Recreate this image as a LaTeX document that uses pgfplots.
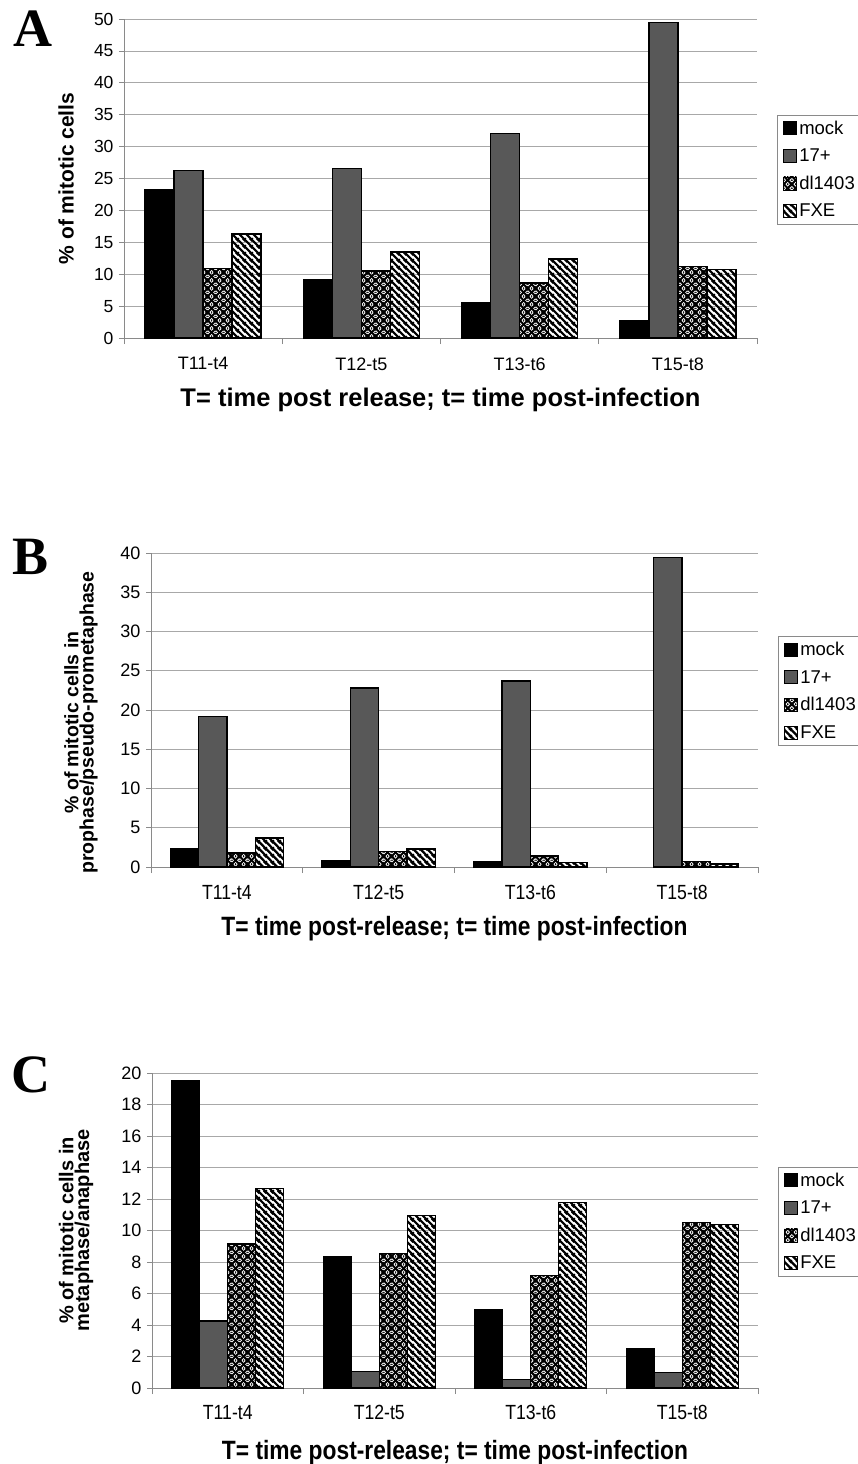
\documentclass[border=0pt]{standalone}
\usepackage{pgfplots}
\pgfplotsset{compat=1.18}
\usetikzlibrary{patterns.meta}
\usepackage{fontspec}
\setmainfont{Liberation Sans}
\newfontfamily\narrowfont[FakeStretch=0.86]{Liberation Sans}
\newfontfamily\serifb{Liberation Serif}

\tikzdeclarepattern{
  name=fxe, type=uncolored,
  bottom left={(0pt,0pt)}, top right={(7pt,7pt)}, tile size={(7pt,7pt)},
  code={
    \draw[line width=2.5pt] (-1pt,8pt) -- (8pt,-1pt);
    \draw[line width=2.5pt] (-1.5pt,1.5pt) -- (1.5pt,-1.5pt);
    \draw[line width=2.5pt] (5.5pt,8.5pt) -- (8.5pt,5.5pt);
  }
}
\tikzdeclarepattern{
  name=dlx, type=uncolored,
  bottom left={(0pt,0pt)}, top right={(8pt,8pt)}, tile size={(8pt,8pt)},
  code={
    \draw[line width=2.2pt] (-1pt,9pt) -- (9pt,-1pt);
    \draw[line width=2.2pt] (-1.5pt,1.5pt) -- (1.5pt,-1.5pt);
    \draw[line width=2.2pt] (6.5pt,9.5pt) -- (9.5pt,6.5pt);
    \draw[line width=2.2pt] (-1pt,-1pt) -- (9pt,9pt);
    \draw[line width=2.2pt] (-1.5pt,6.5pt) -- (1.5pt,9.5pt);
    \draw[line width=2.2pt] (6.5pt,-1.5pt) -- (9.5pt,1.5pt);
    \fill (4pt,0pt) circle (0.9pt);
    \fill (0pt,4pt) circle (0.9pt);
    \fill (8pt,4pt) circle (0.9pt);
    \fill (4pt,8pt) circle (0.9pt);
  }
}

\definecolor{bargray}{HTML}{585858}
\definecolor{gridgray}{HTML}{A8A8A8}
\definecolor{axisgray}{HTML}{8A8A8A}

\pgfplotsset{
  mylegend/.style={legend image code/.code={\draw[##1,line width=0.9pt] (0pt,-6.5pt) rectangle (13pt,6.5pt);}},
  panel/.style={
    scale only axis,
    axis x line*=bottom, axis y line*=left,
    axis line style={axisgray, line width=0.8pt},
    ymajorgrids, grid style={gridgray, line width=0.7pt},
    xmin=-0.5, xmax=3.5, ymin=0,
    xtick={0,1,2,3},
    xticklabels={T11-t4,T12-t5,T13-t6,T15-t8},
    minor xtick={-0.5,0.5,1.5,2.5,3.5},
    major x tick style={draw=none},
    minor x tick style={axisgray, line width=0.8pt},
    minor tick length=6pt,
    y tick style={axisgray, line width=0.8pt},
    major tick length=5pt,
    tick align=outside,
    /pgf/number format/assume math mode=true,
    yticklabel style={font=\fontsize{17.5}{20}\selectfont, xshift=-2pt},
    ybar=0pt,
    every axis x label/.style={at={(axis description cs:0.5,0)}, anchor=center, yshift=-62pt},
    every axis y label/.style={rotate=90, anchor=center, align=center},
    legend cell align=left,
    legend style={at={(1,0.5)}, anchor=west, xshift=20pt, yshift=9pt,
      draw=axisgray, line width=0.7pt, font=\fontsize{18.5}{21}\selectfont,
      inner xsep=6pt, inner ysep=4pt, row sep=9pt,
      nodes={inner xsep=2pt}},
    every axis plot/.append style={draw=black, line width=1.3pt},
  },
  s1/.style={fill=black, mylegend},
  s2/.style={fill=bargray, mylegend},
  s3/.style={pattern={dlx}, pattern color=black, mylegend},
  s4/.style={pattern={fxe}, pattern color=black, mylegend},
}

\begin{document}
\begin{tikzpicture}
% ---------------- Panel A
\node[font=\serifb\bfseries\fontsize{54}{54}\selectfont] at (33pt,-29pt) {A};
\begin{axis}[panel,
  at={(124pt,-338pt)}, anchor=south west,
  width=633pt, height=319pt,
  ymax=50, ytick distance=5,
  bar width=29pt,
  xticklabel style={font=\fontsize{18}{21}\selectfont, yshift=-11pt},
  xlabel={\bfseries\fontsize{25.5}{28}\selectfont T= time post release; t= time post-infection},
  ylabel={\bfseries\fontsize{21}{24}\selectfont \% of mitotic cells},
  ylabel style={at={(axis description cs:-0.0916,0.5)}},
]
\addplot[s1] coordinates {(0,23.2) (1,9.1) (2,5.6) (3,2.7)};
\addplot[s2] coordinates {(0,26.3) (1,26.6) (2,32.0) (3,49.4)};
\addplot[s3] coordinates {(0,10.9) (1,10.5) (2,8.6) (3,11.2)};
\addplot[s4] coordinates {(0,16.3) (1,13.5) (2,12.4) (3,10.7)};
\legend{mock,17+,dl1403,FXE}
\end{axis}

% ---------------- Panel B
\node[font=\serifb\bfseries\fontsize{54}{54}\selectfont] at (31pt,-557pt) {B};
\begin{axis}[panel,
  at={(151pt,-867pt)}, anchor=south west,
  width=607pt, height=314pt,
  ymax=40, ytick distance=5,
  bar width=28.3pt,
  yticklabel style={font=\fontsize{18}{20}\selectfont},
  xticklabel style={font=\narrowfont\fontsize{20.5}{23}\selectfont, yshift=-10pt},
  xlabel={\narrowfont\bfseries\fontsize{26.5}{29}\selectfont T= time post-release; t= time post-infection},
  ylabel={\bfseries\fontsize{19.5}{24}\selectfont \% of mitotic cells in\\ \bfseries\fontsize{19.5}{24}\selectfont prophase/pseudo-prometaphase},
  ylabel style={at={(axis description cs:-0.1153,0.46)}},
  legend style={yshift=10pt},
]
\addplot[s1] coordinates {(0,2.3) (1,0.8) (2,0.7)};
\addplot[s2] coordinates {(0,19.2) (1,22.8) (2,23.7) (3,39.4)};
\addplot[s3] coordinates {(0,1.8) (1,2.0) (2,1.4) (3,0.7)};
\addplot[s4] coordinates {(0,3.7) (1,2.3) (2,0.6) (3,0.4)};
\legend{mock,17+,dl1403,FXE}
\end{axis}

% ---------------- Panel C
\node[font=\serifb\bfseries\fontsize{54}{54}\selectfont] at (31pt,-1075pt) {C};
\begin{axis}[panel,
  at={(152pt,-1388pt)}, anchor=south west,
  width=606pt, height=315pt,
  ymax=20, ytick distance=2,
  bar width=28pt,
  yticklabel style={font=\fontsize{18}{20}\selectfont},
  xticklabel style={font=\narrowfont\fontsize{20.5}{23}\selectfont, yshift=-9pt},
  xlabel={\narrowfont\bfseries\fontsize{26.5}{29}\selectfont T= time post-release; t= time post-infection},
  xlabel style={yshift=-3pt},
  ylabel={\bfseries\fontsize{20}{24}\selectfont \% of mitotic cells in\\ \bfseries\fontsize{20}{24}\selectfont metaphase/anaphase},
  ylabel style={at={(axis description cs:-0.1254,0.5)}},
]
\addplot[s1] coordinates {(0,19.5) (1,8.35) (2,5.0) (3,2.5)};
\addplot[s2] coordinates {(0,4.25) (1,1.05) (2,0.55) (3,1.0)};
\addplot[s3] coordinates {(0,9.15) (1,8.55) (2,7.15) (3,10.5)};
\addplot[s4] coordinates {(0,12.65) (1,10.95) (2,11.8) (3,10.4)};
\legend{mock,17+,dl1403,FXE}
\end{axis}

\pgfresetboundingbox
\useasboundingbox (0pt,0pt) rectangle (858pt,-1464pt);
\end{tikzpicture}
\end{document}
